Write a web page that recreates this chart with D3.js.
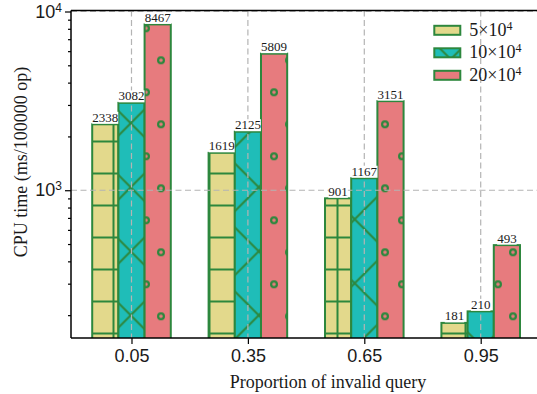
<!DOCTYPE html>
<html>
<head>
<meta charset="utf-8">
<script src="https://cdn.jsdelivr.net/npm/d3@7"></script>
<style>
  html, body { margin: 0; padding: 0; background: #fff; }
  svg { display: block; font-family: "Liberation Serif", "Times New Roman", serif; }
</style>
</head>
<body>
<svg id="chart" width="537" height="394"></svg>
<script>
// ---- data ----
const categories = [0.05, 0.35, 0.65, 0.95];
const categoryLabels = ["0.05", "0.35", "0.65", "0.95"];
const seriesBase = ["5×10", "10×10", "20×10"];
const seriesExp = ["4", "4", "4"];
const series5 = [2338, 1619, 901, 181];
const series10 = [3082, 2125, 1167, 210];
const series20 = [8467, 5809, 3151, 493];
const yMajorTicks = [1000, 10000];
const yMinorTicks = [200, 300, 400, 500, 600, 700, 800, 900, 2000, 3000, 4000, 5000, 6000, 7000, 8000, 9000];
const xTitle = "Proportion of invalid query";
const yTitle = "CPU time (ms/100000 op)";

// ---- styles ----
const fills = ["#E3D98C", "#1FBDB8", "#E77B7E"];
const hatchIds = ["hatchPlus", "hatchX", "hatchO"];
const edge = "#2D873D";
const textColor = "#1a1a1a";
const gridColor = "#b4b4b4";

const svg = d3.select("#chart");
const L = 71, R = 585, T = 10.5, B = 338;

const x = d3.scaleLinear().domain([-0.1059, 1.2188]).range([L, R]);
const y = d3.scaleLog().domain([149, 10000]).range([B, 11.5]);
const barOffsets = [-0.0675, 0, 0.0675];
const barW = x(0.0675) - x(0);
const allSeries = [series5, series10, series20];

// ---- patterns ----
const defs = svg.append("defs");
const pPlus = defs.append("pattern").attr("id", "hatchPlus").attr("patternUnits", "userSpaceOnUse")
  .attr("x", 1.5).attr("y", -2.5).attr("width", 32).attr("height", 32);
pPlus.append("path").attr("d", "M16,0V32M0,16H32").attr("stroke", edge).attr("stroke-width", 2).attr("fill", "none");

const pX = defs.append("pattern").attr("id", "hatchX").attr("patternUnits", "userSpaceOnUse")
  .attr("x", 2.7).attr("y", 59.3).attr("width", 64).attr("height", 64);
pX.append("path")
  .attr("d", "M-8,-8L72,72M72,-8L-8,72M56,-8L72,8M-8,56L8,72M-8,8L8,-8M56,72L72,56")
  .attr("stroke", edge).attr("stroke-width", 2).attr("fill", "none");

const pO = defs.append("pattern").attr("id", "hatchO").attr("patternUnits", "userSpaceOnUse")
  .attr("x", 10).attr("y", 12.3).attr("width", 32).attr("height", 64);
[[8, 16], [23, 48]].forEach(c => {
  pO.append("circle").attr("cx", c[0]).attr("cy", c[1]).attr("r", 2.9)
    .attr("fill", "none").attr("stroke", edge).attr("stroke-width", 2.2);
});

defs.append("clipPath").attr("id", "plotClip").append("rect")
  .attr("x", L).attr("y", T).attr("width", R - L).attr("height", B - T);

// ---- bars ----
const gBars = svg.append("g").attr("clip-path", "url(#plotClip)");
allSeries.forEach((vals, si) => {
  const g = gBars.append("g");
  vals.forEach((v, i) => {
    const cx = x(categories[i] + barOffsets[si]);
    const x0 = cx - barW / 2;
    const yt = y(v);
    g.append("rect").attr("x", x0).attr("y", yt).attr("width", barW).attr("height", B + 5 - yt).attr("fill", fills[si]);
    g.append("rect").attr("x", x0).attr("y", yt).attr("width", barW).attr("height", B + 5 - yt).attr("fill", `url(#${hatchIds[si]})`);
    g.append("rect").attr("x", x0).attr("y", yt).attr("width", barW).attr("height", B + 5 - yt)
      .attr("fill", "none").attr("stroke", edge).attr("stroke-width", 2);
  });
});

// ---- grid ----
const gGrid = svg.append("g");
yMajorTicks.forEach(t => {
  gGrid.append("line").attr("x1", L).attr("x2", R).attr("y1", y(t)).attr("y2", y(t))
    .attr("stroke", gridColor).attr("stroke-width", 1.2).attr("stroke-dasharray", "6,3.5");
});
categories.forEach(c => {
  gGrid.append("line").attr("x1", x(c)).attr("x2", x(c)).attr("y1", T).attr("y2", B)
    .attr("stroke", gridColor).attr("stroke-width", 1.2).attr("stroke-dasharray", "6,3.5");
});

// ---- value labels ----
const gLab = svg.append("g");
allSeries.forEach((vals, si) => {
  vals.forEach((v, i) => {
    const cx = x(categories[i] + barOffsets[si]);
    const t = gLab.append("text").attr("x", cx).attr("y", y(v) - 2.5)
      .attr("text-anchor", "middle").attr("font-size", "13px").attr("fill", textColor).text(v);
    const bb = t.node().getBBox();
    gLab.insert("rect", () => t.node()).attr("x", bb.x).attr("y", bb.y + 2).attr("width", bb.width).attr("height", bb.height - 3)
      .attr("fill", "#fff");
  });
});

// ---- axes ----
const yAxisMajor = d3.axisLeft(y).tickValues(yMajorTicks).tickSize(6).tickPadding(3).tickFormat(() => "10");
const gy = svg.append("g").attr("transform", `translate(${L},0)`).call(yAxisMajor);
gy.selectAll(".tick text").attr("font-size", "18px").attr("fill", textColor)
  .each(function(d) {
    d3.select(this).append("tspan").attr("dy", "-6").attr("font-size", "12px").text(String(Math.round(Math.log10(d))));
  });
const yAxisMinor = d3.axisLeft(y).tickValues(yMinorTicks).tickSize(3).tickFormat(() => "");
const gym = svg.append("g").attr("transform", `translate(${L},0)`).call(yAxisMinor);
gym.select(".domain").remove();

const xAxis = d3.axisBottom(x).tickValues(categories).tickSize(6).tickPadding(5)
  .tickFormat((d, i) => categoryLabels[i]);
const gx = svg.append("g").attr("transform", `translate(0,${B})`).call(xAxis);
gx.selectAll(".tick text").attr("font-size", "18px").attr("fill", textColor);

[gy, gym, gx].forEach(g => {
  g.selectAll(".tick line").attr("stroke", "#000").attr("stroke-width", 1.2);
  g.select(".domain").attr("stroke", "#000").attr("stroke-width", 1.5);
});
gy.select(".domain").attr("d", `M0,${T}V${B}`);
gx.select(".domain").attr("d", `M${L},0H${R}`);
// top spine
svg.append("line").attr("x1", L).attr("x2", R).attr("y1", T).attr("y2", T).attr("stroke", "#000").attr("stroke-width", 1.5);

// ---- titles ----
svg.append("text").attr("x", 328).attr("y", 388).attr("text-anchor", "middle")
  .attr("font-size", "18px").attr("fill", textColor).text(xTitle);
svg.append("text").attr("transform", "translate(27,162) rotate(-90)").attr("text-anchor", "middle")
  .attr("font-size", "18px").attr("fill", textColor).text(yTitle);

// ---- legend ----
const gLeg = svg.append("g");
seriesBase.forEach((name, i) => {
  const cy = 30.3 + i * 22.5;
  gLeg.append("rect").attr("x", 434.3).attr("y", cy - 4.5).attr("width", 26).attr("height", 9).attr("fill", fills[i]);
  gLeg.append("rect").attr("x", 434.3).attr("y", cy - 4.5).attr("width", 26).attr("height", 9).attr("fill", `url(#${hatchIds[i]})`);
  gLeg.append("rect").attr("x", 434.3).attr("y", cy - 4.5).attr("width", 26).attr("height", 9)
    .attr("fill", "none").attr("stroke", edge).attr("stroke-width", 2);
  const t = gLeg.append("text").attr("x", 469.3).attr("y", cy + 5.3).attr("font-size", "18px").attr("fill", textColor).text(name);
  t.append("tspan").attr("dy", "-6").attr("font-size", "12px").text(seriesExp[i]);
});
</script>
</body>
</html>
